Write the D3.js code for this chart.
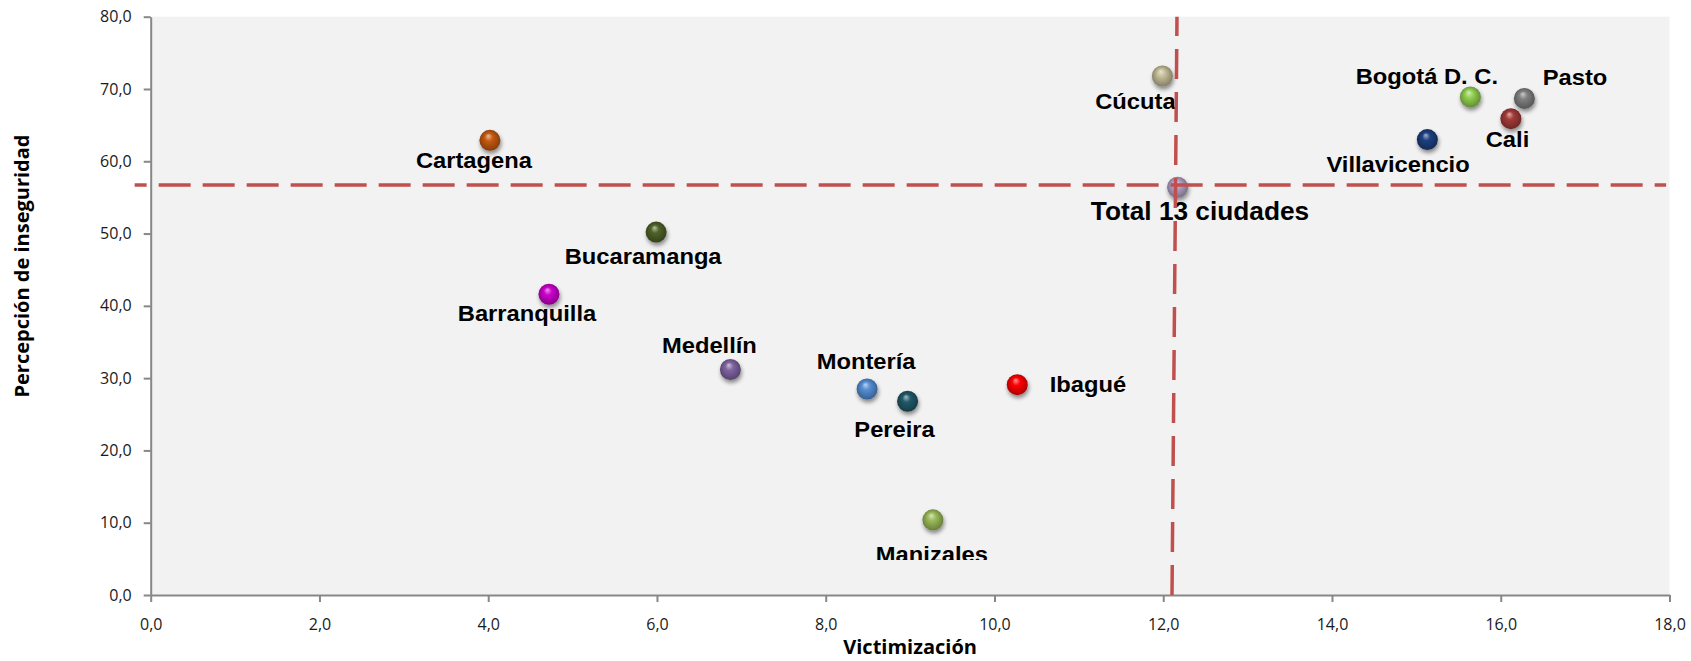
<!DOCTYPE html>
<html>
<head>
<meta charset="utf-8">
<script src="https://cdn.jsdelivr.net/npm/d3@7/dist/d3.min.js"></script>
<style>
  html, body { margin: 0; padding: 0; background: #ffffff; }
  svg { display: block; }
</style>
</head>
<body>
<svg id="chart" width="1691" height="661"></svg>
<script>
// ---------- DATA ----------
const cities = ["Cartagena", "Bucaramanga", "Barranquilla", "Medellín", "Montería", "Pereira", "Ibagué",
                "Manizales", "Cúcuta", "Total 13 ciudades", "Villavicencio", "Bogotá D. C.", "Cali", "Pasto"];
const victimizacion = [4.02, 5.99, 4.72, 6.87, 8.49, 8.97, 10.27, 9.27, 11.99, 12.17, 15.13, 15.64, 16.12, 16.28];
const percepcion    = [62.9, 50.2, 41.6, 31.2, 28.5, 26.8, 29.1, 10.4, 71.8, 56.4, 63.0, 68.9, 65.9, 68.7];
const xTicks = [0, 2, 4, 6, 8, 10, 12, 14, 16, 18];
const yTicks = [0, 10, 20, 30, 40, 50, 60, 70, 80];
// reference (average) lines
const refHorizontal = [{x: -0.19, y: 56.72}, {x: 17.96, y: 56.72}];
const refVertical   = [{x: 12.104, y: 0}, {x: 12.163, y: 80}];

// ---------- STYLE / LAYOUT ----------
const colors = ["#c55a11", "#4f6228", "#cc00cc", "#8064a2", "#558ed5", "#215968", "#ff0000",
                "#9bbb59", "#c4bd97", "#b3a2c7", "#1f3f80", "#92d050", "#a33a38", "#808080"];
// label offsets relative to the marker (centre x, baseline y)
const labelOffsets = [[-16, 27.6], [-13, 31.7], [-22, 26.7], [-21, -16], [-1, -20], [-13, 35.7], [70.7, 7.4],
                      [-1, 42.5], [-27, 33.3], [22.4, 32.7], [-29.3, 32.4], [-43.5, -13.4], [-3.4, 28.4], [50.7, -13.3]];

const svg = d3.select("#chart");
const x = d3.scaleLinear().domain([0, 18]).range([150.7, 1669.5]);
const y = d3.scaleLinear().domain([0, 80]).range([595, 16.7]);

const defs = svg.append("defs");
const shadow = defs.append("filter").attr("id", "shadow")
  .attr("x", "-50%").attr("y", "-50%").attr("width", "200%").attr("height", "200%");
shadow.append("feGaussianBlur").attr("in", "SourceAlpha").attr("stdDeviation", 2).attr("result", "b");
shadow.append("feOffset").attr("in", "b").attr("dx", 1).attr("dy", 3).attr("result", "o");
shadow.append("feComponentTransfer").attr("in", "o").attr("result", "s")
  .append("feFuncA").attr("type", "linear").attr("slope", 0.45);
const merge = shadow.append("feMerge");
merge.append("feMergeNode").attr("in", "s");
merge.append("feMergeNode").attr("in", "SourceGraphic");

colors.forEach((c, i) => {
  const base = d3.color(c);
  const g = defs.append("radialGradient").attr("id", "sph" + i)
    .attr("cx", "50%").attr("cy", "50%").attr("r", "55%").attr("fx", "42%").attr("fy", "28%");
  g.append("stop").attr("offset", "0%").attr("stop-color", d3.interpolateRgb(c, "#ffffff")(0.6));
  g.append("stop").attr("offset", "35%").attr("stop-color", c);
  g.append("stop").attr("offset", "80%").attr("stop-color", base.darker(0.8));
  g.append("stop").attr("offset", "100%").attr("stop-color", base.darker(1.3));
});

defs.append("clipPath").attr("id", "labelClip").append("rect")
  .attr("x", x(0)).attr("y", y(80)).attr("width", x(18) - x(0)).attr("height", 560 - y(80));

// plot background
svg.append("rect")
  .attr("x", x(0)).attr("y", y(80))
  .attr("width", x(18) - x(0)).attr("height", y(0) - y(80))
  .attr("fill", "#f2f2f2");

const fmt = v => d3.format(".1f")(v).replace(".", ",");

// axes
const yAxis = svg.append("g").attr("transform", `translate(${x(0)},0)`)
  .call(d3.axisLeft(y).tickValues(yTicks).tickFormat(fmt).tickSize(7).tickSizeOuter(0).tickPadding(12));
const xAxis = svg.append("g").attr("transform", `translate(0,${y(0)})`)
  .call(d3.axisBottom(x).tickValues(xTicks).tickFormat(fmt).tickSize(7).tickSizeOuter(0).tickPadding(16.6));
[xAxis, yAxis].forEach(a => {
  a.select(".domain").attr("stroke", "#878787").attr("stroke-width", 2);
  a.selectAll(".tick line").attr("stroke", "#878787").attr("stroke-width", 2);
  a.selectAll(".tick text").attr("fill", "#1a1a1a")
    .style("font-family", "'Open Sans', 'Noto Sans', sans-serif").style("font-size", "16px");
});

// axis titles
svg.append("text")
  .attr("transform", "translate(21,266) rotate(-90)")
  .attr("text-anchor", "middle").attr("dominant-baseline", "central")
  .style("font-family", "'Open Sans', 'Noto Sans', sans-serif").style("font-weight", "bold").style("font-size", "20px")
  .attr("fill", "#000").text("Percepción de inseguridad");
svg.append("text")
  .attr("x", (x(0) + x(18)) / 2).attr("y", 654)
  .attr("text-anchor", "middle")
  .style("font-family", "'Open Sans', 'Noto Sans', sans-serif").style("font-weight", "bold").style("font-size", "20px")
  .attr("fill", "#000").text("Victimización");

const pts = cities.map((c, i) => ({name: c, vx: victimizacion[i], vy: percepcion[i], i}));

// markers
svg.append("g").selectAll("circle").data(pts).join("circle")
  .attr("cx", d => x(d.vx)).attr("cy", d => y(d.vy)).attr("r", 10.5)
  .attr("fill", d => `url(#sph${d.i})`)
  .attr("filter", "url(#shadow)");

// labels
svg.append("g").attr("clip-path", "url(#labelClip)")
  .selectAll("text").data(pts).join("text")
  .attr("transform", d => {
    const o = labelOffsets[d.i];
    const s = d.name.startsWith("Total") ? 1.05 : 1.055;
    return `translate(${x(d.vx) + o[0]},${y(d.vy) + o[1]}) scale(${s},1)`;
  })
  .attr("text-anchor", "middle")
  .style("font-family", "'Liberation Sans', Arial, sans-serif").style("font-weight", "bold")
  .style("font-size", d => d.name.startsWith("Total") ? "25px" : "22.5px")
  .attr("fill", "#000")
  .text(d => d.name);

// reference dashed lines (on top)
const line = d3.line().x(d => x(d.x)).y(d => y(d.y));
svg.append("path").attr("d", line(refHorizontal))
  .attr("fill", "none").attr("stroke", "#c0504d").attr("stroke-width", 3.5)
  .attr("stroke-dasharray", "32,12").attr("stroke-dashoffset", 20);
svg.append("path").attr("d", line(refVertical))
  .attr("fill", "none").attr("stroke", "#c0504d").attr("stroke-width", 3.5)
  .attr("stroke-dasharray", "30,13");
</script>
</body>
</html>
